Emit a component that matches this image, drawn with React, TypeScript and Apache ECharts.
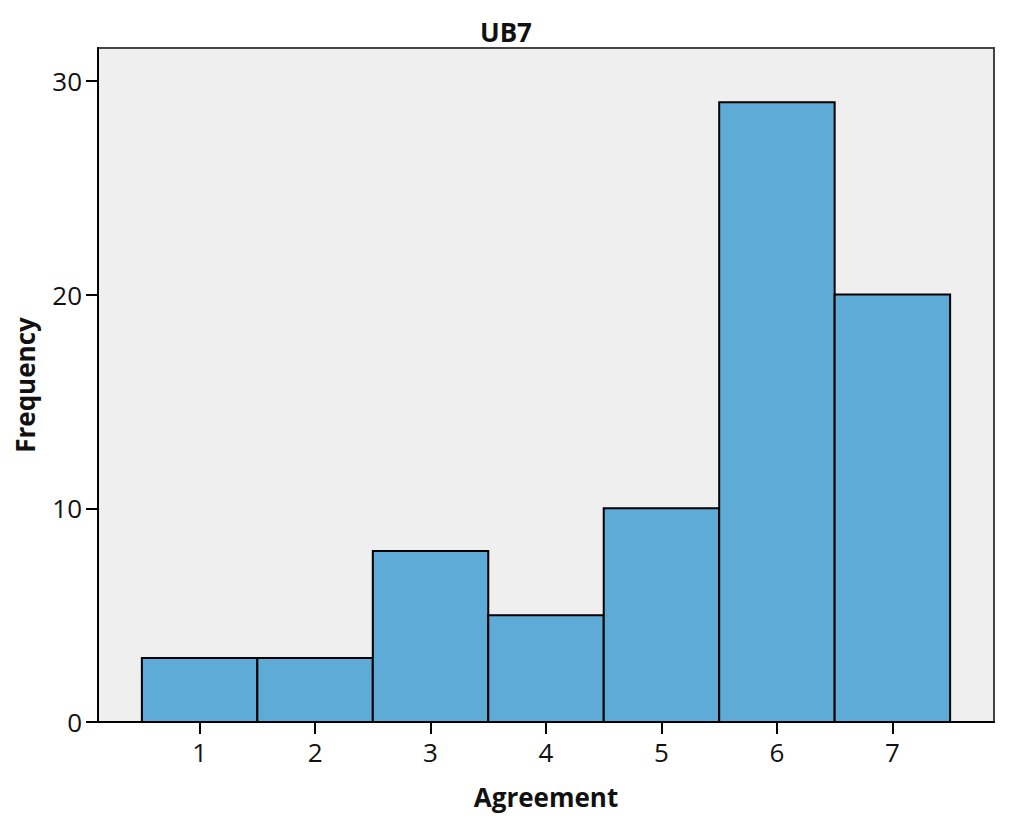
import React, { useEffect, useRef } from "react";
import * as echarts from "echarts";

const categories = [1, 2, 3, 4, 5, 6, 7];
const frequencies = [3, 3, 8, 5, 10, 29, 20];
const yTicks = [0, 10, 20, 30];

const FONT = "'Open Sans', 'Noto Sans', sans-serif";

export default function App() {
  const ref = useRef<HTMLDivElement>(null);
  useEffect(() => {
    if (!ref.current) return;
    const chart = echarts.init(ref.current, undefined, { renderer: "svg" });
    const data = categories.map((c, i) => [c, frequencies[i]]);
    chart.setOption({
      animation: false,
      backgroundColor: "#ffffff",
      title: {
        text: "UB7",
        left: 475,
        top: 14,
        textStyle: { fontFamily: FONT, fontSize: 26, fontWeight: "bold", color: "#111" },
      },
      grid: {
        left: 98,
        top: 48,
        right: 30,
        bottom: 104,
        show: true,
        backgroundColor: "#efefef",
        borderColor: "#444",
        borderWidth: 2,
      },
      xAxis: {
        type: "value",
        min: 0.12,
        max: 7.88,
        name: "Agreement",
        nameLocation: "middle",
        nameGap: 62,
        nameTextStyle: { fontFamily: FONT, fontSize: 26, fontWeight: "bold", color: "#111" },
        axisLine: { show: true, onZero: false, lineStyle: { color: "#000", width: 2 } },
        axisTick: { show: true, length: 12, customValues: categories, lineStyle: { color: "#000", width: 2 } },
        axisLabel: { customValues: categories, margin: 17, fontFamily: FONT, fontSize: 26, color: "#111" },
        splitLine: { show: false },
      },
      yAxis: {
        type: "value",
        min: 0,
        max: 31.54,
        interval: 10,
        name: "Frequency",
        nameLocation: "middle",
        nameGap: 60,
        nameTextStyle: { fontFamily: FONT, fontSize: 26, fontWeight: "bold", color: "#111" },
        axisLine: { show: true, lineStyle: { color: "#000", width: 2 } },
        axisTick: { show: true, length: 12, customValues: yTicks, lineStyle: { color: "#000", width: 2 } },
        axisLabel: { customValues: yTicks, margin: 16, fontFamily: FONT, fontSize: 26, color: "#111" },
        splitLine: { show: false },
      },
      series: [
        {
          type: "custom",
          data,
          renderItem: (params: any, api: any) => {
            const x = api.value(0);
            const y = api.value(1);
            const p0 = api.coord([x - 0.5, y]);
            const p1 = api.coord([x + 0.5, 0]);
            return {
              type: "rect",
              shape: { x: p0[0], y: p0[1], width: p1[0] - p0[0], height: p1[1] - p0[1] },
              style: { fill: "#5eabd7", stroke: "#000", lineWidth: 2 },
            };
          },
        },
      ],
    });
    return () => chart.dispose();
  }, []);
  return (
    <div
      ref={ref}
      style={{ position: "fixed", left: 0, top: 0, width: 1024, height: 826 }}
    />
  );
}
